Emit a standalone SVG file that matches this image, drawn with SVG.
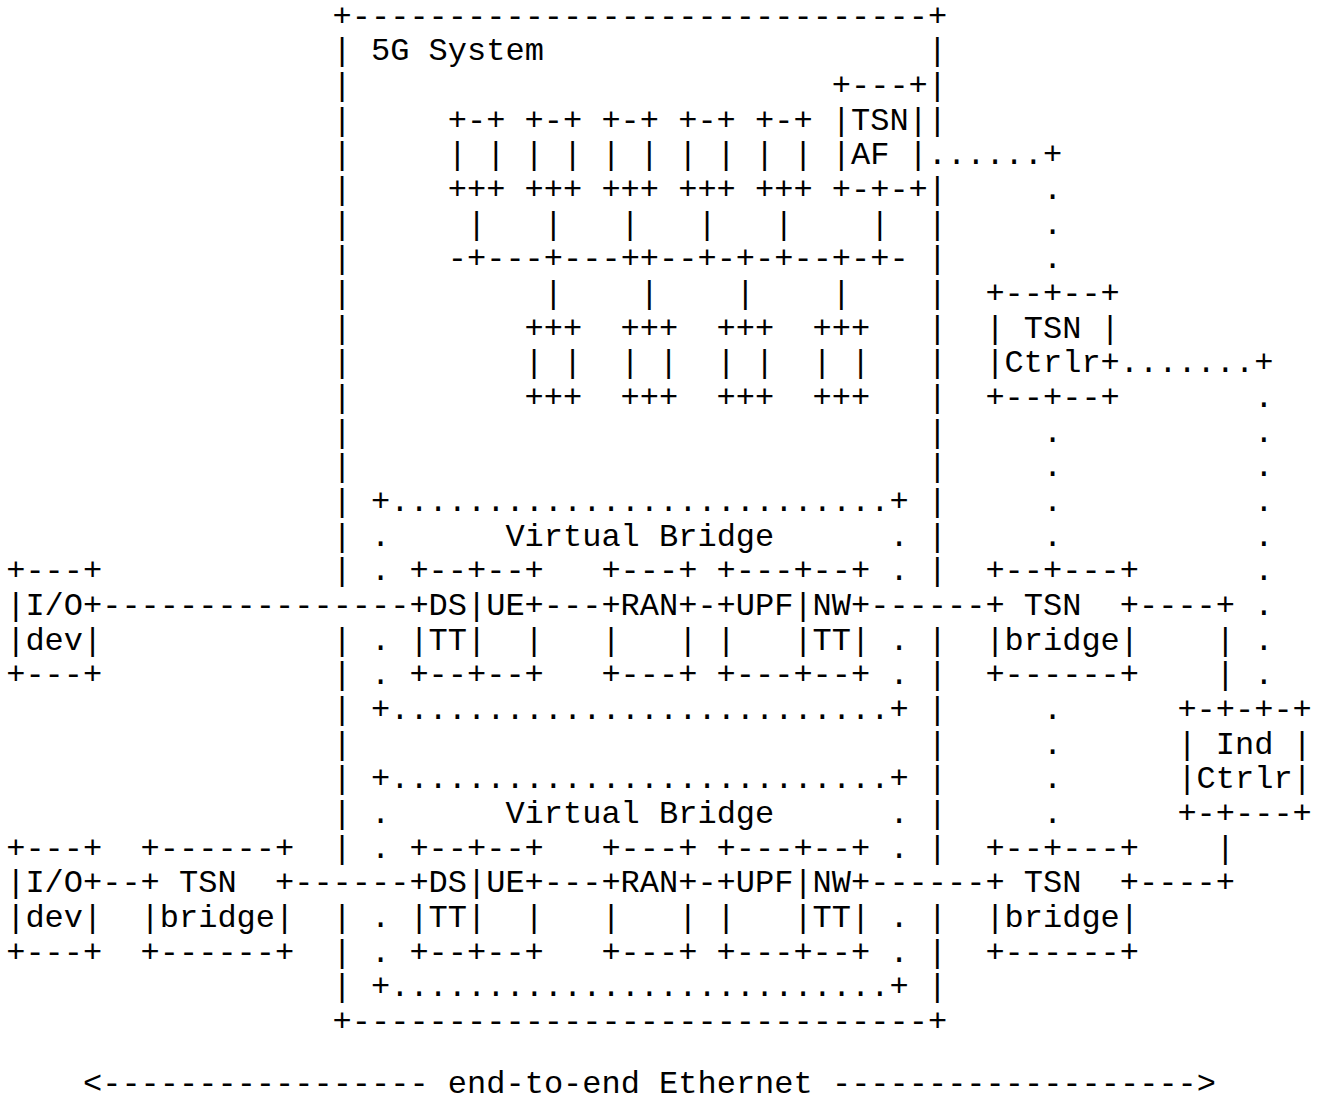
<svg xmlns="http://www.w3.org/2000/svg" width="1319" height="1102" viewBox="0 0 1319 1102" xml:space="preserve">
<style>
text{font-family:"Liberation Mono","DejaVu Sans Mono",monospace;font-size:32px;fill:#000;white-space:pre}
</style>
<rect x="0" y="0" width="1319" height="1102" fill="#fff"/>
<g id="n-5g-system">
<text x="332.6" y="25.5">+------------------------------+</text>
<text x="371" y="60.2">5G System</text>
<text><tspan x="332.6" y="60.2">|</tspan><tspan x="332.6" y="94.8">|</tspan><tspan x="332.6" y="129.5">|</tspan><tspan x="332.6" y="164.2">|</tspan><tspan x="332.6" y="198.9">|</tspan><tspan x="332.6" y="233.5">|</tspan><tspan x="332.6" y="268.2">|</tspan><tspan x="332.6" y="302.9">|</tspan><tspan x="332.6" y="337.5">|</tspan><tspan x="332.6" y="372.2">|</tspan><tspan x="332.6" y="406.9">|</tspan><tspan x="332.6" y="441.5">|</tspan><tspan x="332.6" y="476.2">|</tspan><tspan x="332.6" y="510.9">|</tspan><tspan x="332.6" y="545.6">|</tspan><tspan x="332.6" y="580.2">|</tspan><tspan x="332.6" y="649.6">|</tspan><tspan x="332.6" y="684.2">|</tspan><tspan x="332.6" y="718.9">|</tspan><tspan x="332.6" y="753.6">|</tspan><tspan x="332.6" y="788.2">|</tspan><tspan x="332.6" y="822.9">|</tspan><tspan x="332.6" y="857.6">|</tspan><tspan x="332.6" y="926.9">|</tspan><tspan x="332.6" y="961.6">|</tspan><tspan x="332.6" y="996.3">|</tspan></text>
<text><tspan x="927.8" y="60.2">|</tspan><tspan x="927.8" y="94.8">|</tspan><tspan x="927.8" y="129.5">|</tspan><tspan x="927.8" y="198.9">|</tspan><tspan x="927.8" y="233.5">|</tspan><tspan x="927.8" y="268.2">|</tspan><tspan x="927.8" y="302.9">|</tspan><tspan x="927.8" y="337.5">|</tspan><tspan x="927.8" y="372.2">|</tspan><tspan x="927.8" y="406.9">|</tspan><tspan x="927.8" y="441.5">|</tspan><tspan x="927.8" y="476.2">|</tspan><tspan x="927.8" y="510.9">|</tspan><tspan x="927.8" y="545.6">|</tspan><tspan x="927.8" y="580.2">|</tspan><tspan x="927.8" y="649.6">|</tspan><tspan x="927.8" y="684.2">|</tspan><tspan x="927.8" y="718.9">|</tspan><tspan x="927.8" y="753.6">|</tspan><tspan x="927.8" y="788.2">|</tspan><tspan x="927.8" y="822.9">|</tspan><tspan x="927.8" y="857.6">|</tspan><tspan x="927.8" y="926.9">|</tspan><tspan x="927.8" y="961.6">|</tspan><tspan x="927.8" y="996.3">|</tspan></text>
<text x="332.6" y="1030.9">+------------------------------+</text>
</g>
<g id="n-tsn-af">
<text><tspan x="831.8" y="94.8">+---+</tspan><tspan x="831.8" y="129.5">|TSN|</tspan><tspan x="831.8" y="164.2">|AF |</tspan><tspan x="831.8" y="198.9">+-+-+</tspan></text>
</g>
<g id="n-nf-1"><text><tspan x="447.8" y="129.5">+-+</tspan><tspan x="447.8" y="164.2">| |</tspan><tspan x="447.8" y="198.9">+++</tspan></text></g>
<g id="n-nf-2"><text><tspan x="524.6" y="129.5">+-+</tspan><tspan x="524.6" y="164.2">| |</tspan><tspan x="524.6" y="198.9">+++</tspan></text></g>
<g id="n-nf-3"><text><tspan x="601.4" y="129.5">+-+</tspan><tspan x="601.4" y="164.2">| |</tspan><tspan x="601.4" y="198.9">+++</tspan></text></g>
<g id="n-nf-4"><text><tspan x="678.2" y="129.5">+-+</tspan><tspan x="678.2" y="164.2">| |</tspan><tspan x="678.2" y="198.9">+++</tspan></text></g>
<g id="n-nf-5"><text><tspan x="755" y="129.5">+-+</tspan><tspan x="755" y="164.2">| |</tspan><tspan x="755" y="198.9">+++</tspan></text></g>
<g id="n-nf-6"><text><tspan x="524.6" y="337.5">+++</tspan><tspan x="524.6" y="372.2">| |</tspan><tspan x="524.6" y="406.9">+++</tspan></text></g>
<g id="n-nf-7"><text><tspan x="620.6" y="337.5">+++</tspan><tspan x="620.6" y="372.2">| |</tspan><tspan x="620.6" y="406.9">+++</tspan></text></g>
<g id="n-nf-8"><text><tspan x="716.6" y="337.5">+++</tspan><tspan x="716.6" y="372.2">| |</tspan><tspan x="716.6" y="406.9">+++</tspan></text></g>
<g id="n-nf-9"><text><tspan x="812.6" y="337.5">+++</tspan><tspan x="812.6" y="372.2">| |</tspan><tspan x="812.6" y="406.9">+++</tspan></text></g>
<g id="n-tsn-ctrlr">
<text><tspan x="985.4" y="302.9">+--+--+</tspan><tspan x="985.4" y="337.5">| TSN |</tspan><tspan x="985.4" y="372.2">|Ctrlr+</tspan><tspan x="985.4" y="406.9">+--+--+</tspan></text>
</g>
<g id="n-virtual-bridge-1">
<text x="371" y="510.9">+..........................+</text>
<text x="505.4" y="545.6">Virtual Bridge</text>
<text><tspan x="371" y="545.6">.</tspan><tspan x="371" y="580.2">.</tspan><tspan x="371" y="649.6">.</tspan><tspan x="371" y="684.2">.</tspan><tspan x="889.4" y="545.6">.</tspan><tspan x="889.4" y="580.2">.</tspan><tspan x="889.4" y="649.6">.</tspan><tspan x="889.4" y="684.2">.</tspan></text>
<text x="371" y="718.9">+..........................+</text>
</g>
<g id="n-ds-ue-1"><text><tspan x="409.4" y="580.2">+--+--+</tspan><tspan x="409.4" y="614.9">+DS|UE+</tspan><tspan x="409.4" y="649.6">|TT|  |</tspan><tspan x="409.4" y="684.2">+--+--+</tspan></text></g>
<g id="n-ran-1"><text><tspan x="601.4" y="580.2">+---+</tspan><tspan x="601.4" y="614.9">+RAN+</tspan><tspan x="601.4" y="649.6">|   |</tspan><tspan x="601.4" y="684.2">+---+</tspan></text></g>
<g id="n-upf-nw-1"><text><tspan x="716.6" y="580.2">+---+--+</tspan><tspan x="716.6" y="614.9">+UPF|NW+</tspan><tspan x="716.6" y="649.6">|   |TT|</tspan><tspan x="716.6" y="684.2">+---+--+</tspan></text></g>
<g id="n-io-dev-1"><text><tspan x="6.2" y="580.2">+---+</tspan><tspan x="6.2" y="614.9">|I/O+</tspan><tspan x="6.2" y="649.6">|dev|</tspan><tspan x="6.2" y="684.2">+---+</tspan></text></g>
<g id="n-tsn-bridge-r1"><text><tspan x="985.4" y="580.2">+--+---+</tspan><tspan x="985.4" y="614.9">+ TSN  +</tspan><tspan x="985.4" y="649.6">|bridge|</tspan><tspan x="985.4" y="684.2">+------+</tspan></text></g>
<g id="n-ind-ctrlr"><text><tspan x="1177.4" y="718.9">+-+-+-+</tspan><tspan x="1177.4" y="753.6">| Ind |</tspan><tspan x="1177.4" y="788.2">|Ctrlr|</tspan><tspan x="1177.4" y="822.9">+-+---+</tspan></text></g>
<g id="n-virtual-bridge-2">
<text x="371" y="788.2">+..........................+</text>
<text x="505.4" y="822.9">Virtual Bridge</text>
<text><tspan x="371" y="822.9">.</tspan><tspan x="371" y="857.6">.</tspan><tspan x="371" y="926.9">.</tspan><tspan x="371" y="961.6">.</tspan><tspan x="889.4" y="822.9">.</tspan><tspan x="889.4" y="857.6">.</tspan><tspan x="889.4" y="926.9">.</tspan><tspan x="889.4" y="961.6">.</tspan></text>
<text x="371" y="996.3">+..........................+</text>
</g>
<g id="n-ds-ue-2"><text><tspan x="409.4" y="857.6">+--+--+</tspan><tspan x="409.4" y="892.3">+DS|UE+</tspan><tspan x="409.4" y="926.9">|TT|  |</tspan><tspan x="409.4" y="961.6">+--+--+</tspan></text></g>
<g id="n-ran-2"><text><tspan x="601.4" y="857.6">+---+</tspan><tspan x="601.4" y="892.3">+RAN+</tspan><tspan x="601.4" y="926.9">|   |</tspan><tspan x="601.4" y="961.6">+---+</tspan></text></g>
<g id="n-upf-nw-2"><text><tspan x="716.6" y="857.6">+---+--+</tspan><tspan x="716.6" y="892.3">+UPF|NW+</tspan><tspan x="716.6" y="926.9">|   |TT|</tspan><tspan x="716.6" y="961.6">+---+--+</tspan></text></g>
<g id="n-io-dev-2"><text><tspan x="6.2" y="857.6">+---+</tspan><tspan x="6.2" y="892.3">|I/O+</tspan><tspan x="6.2" y="926.9">|dev|</tspan><tspan x="6.2" y="961.6">+---+</tspan></text></g>
<g id="n-tsn-bridge-l2"><text><tspan x="140.6" y="857.6">+------+</tspan><tspan x="140.6" y="892.3">+ TSN  +</tspan><tspan x="140.6" y="926.9">|bridge|</tspan><tspan x="140.6" y="961.6">+------+</tspan></text></g>
<g id="n-tsn-bridge-r2"><text><tspan x="985.4" y="857.6">+--+---+</tspan><tspan x="985.4" y="892.3">+ TSN  +</tspan><tspan x="985.4" y="926.9">|bridge|</tspan><tspan x="985.4" y="961.6">+------+</tspan></text></g>
<g id="connectors">
<text><tspan x="467" y="233.5">|</tspan><tspan x="543.8" y="233.5">|</tspan><tspan x="620.6" y="233.5">|</tspan><tspan x="697.4" y="233.5">|</tspan><tspan x="774.2" y="233.5">|</tspan><tspan x="870.2" y="233.5">|</tspan></text>
<text x="447.8" y="268.2">-+---+---++--+-+-+--+-+-</text>
<text><tspan x="543.8" y="302.9">|</tspan><tspan x="639.8" y="302.9">|</tspan><tspan x="735.8" y="302.9">|</tspan><tspan x="831.8" y="302.9">|</tspan></text>
<text x="927.8" y="164.2">......+</text>
<text><tspan x="1043" y="198.9">.</tspan><tspan x="1043" y="233.5">.</tspan><tspan x="1043" y="268.2">.</tspan></text>
<text x="1119.8" y="372.2">.......+</text>
<text><tspan x="1254.2" y="406.9">.</tspan><tspan x="1254.2" y="441.5">.</tspan><tspan x="1254.2" y="476.2">.</tspan><tspan x="1254.2" y="510.9">.</tspan><tspan x="1254.2" y="545.6">.</tspan><tspan x="1254.2" y="580.2">.</tspan><tspan x="1254.2" y="614.9">.</tspan><tspan x="1254.2" y="649.6">.</tspan><tspan x="1254.2" y="684.2">.</tspan></text>
<text><tspan x="1043" y="441.5">.</tspan><tspan x="1043" y="476.2">.</tspan><tspan x="1043" y="510.9">.</tspan><tspan x="1043" y="545.6">.</tspan></text>
<text><tspan x="1043" y="718.9">.</tspan><tspan x="1043" y="753.6">.</tspan><tspan x="1043" y="788.2">.</tspan><tspan x="1043" y="822.9">.</tspan></text>
<text><tspan x="102.2" y="614.9">----------------</tspan><tspan x="543.8" y="614.9">---</tspan><tspan x="697.4" y="614.9">-</tspan><tspan x="870.2" y="614.9">------</tspan><tspan x="1139" y="614.9">----+</tspan></text>
<text><tspan x="1215.8" y="649.6">|</tspan><tspan x="1215.8" y="684.2">|</tspan><tspan x="1215.8" y="857.6">|</tspan></text>
<text><tspan x="102.2" y="892.3">--</tspan><tspan x="294.2" y="892.3">------</tspan><tspan x="543.8" y="892.3">---</tspan><tspan x="697.4" y="892.3">-</tspan><tspan x="870.2" y="892.3">------</tspan><tspan x="1139" y="892.3">----+</tspan></text>
</g>
<g id="end-to-end">
<text x="83" y="1093">&lt;----------------- end-to-end Ethernet -------------------&gt;</text>
</g>
</svg>
